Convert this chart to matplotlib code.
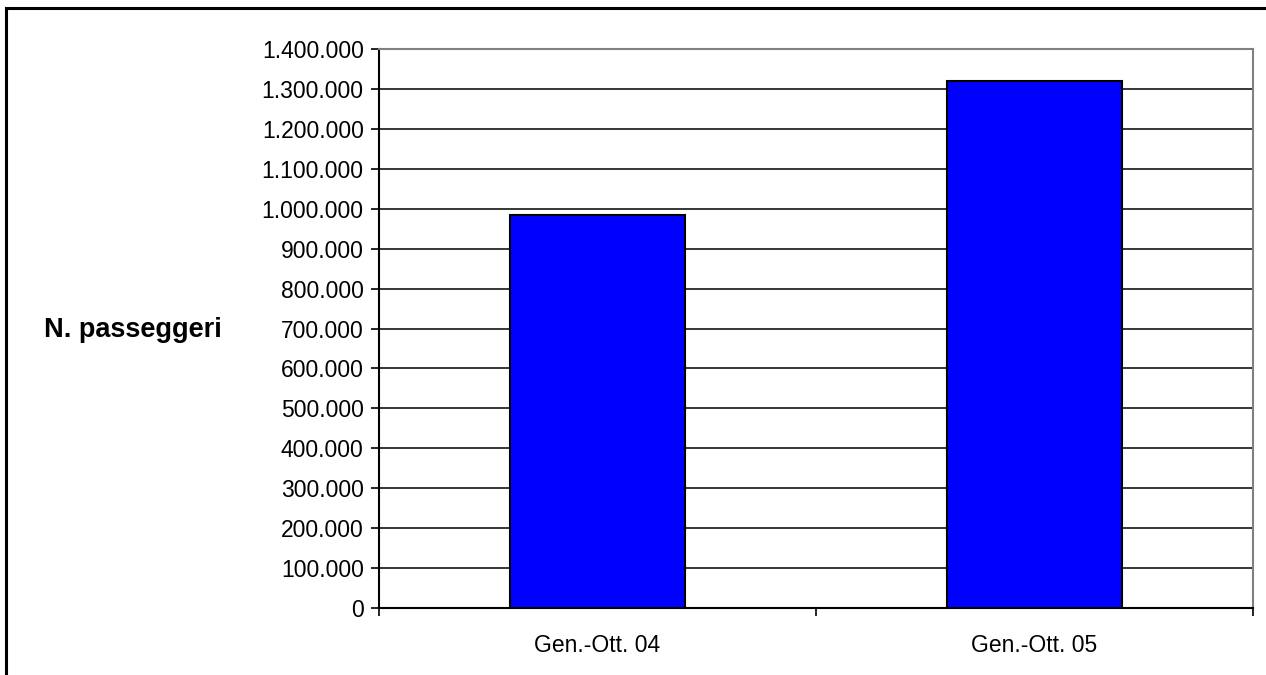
import matplotlib
matplotlib.use("Agg")
import matplotlib.pyplot as plt
from matplotlib.patches import Rectangle
from matplotlib.ticker import FuncFormatter, FixedLocator

categories = ["Gen.-Ott. 04", "Gen.-Ott. 05"]
values = [985000, 1320000]
y_ticks = list(range(0, 1400001, 100000))

plt.rcParams['font.family'] = ['Liberation Sans', 'DejaVu Sans']

W, H = 1266, 675
fig = plt.figure(figsize=(W / 100, H / 100), dpi=100)
fig.patch.set_facecolor("white")

ax = fig.add_axes([379 / W, 1 - 608 / H, (1253 - 379) / W, (608 - 49) / H])

x = list(range(len(categories)))
ax.bar(x, values, width=0.4, color="#0000FF", edgecolor="black", linewidth=1.5, zorder=3)

ax.set_xlim(-0.5, len(categories) - 0.5)
ax.set_ylim(0, 1400000)
ax.yaxis.set_major_locator(FixedLocator(y_ticks))
ax.yaxis.set_major_formatter(FuncFormatter(lambda v, p: f"{int(v):,}".replace(",", ".")))
ax.grid(axis="y", color="black", linewidth=1.1, zorder=1)

ax.xaxis.set_major_locator(FixedLocator([i - 0.5 for i in range(len(categories) + 1)]))
ax.xaxis.set_major_formatter(FuncFormatter(lambda v, p: ""))
ax.xaxis.set_minor_locator(FixedLocator(x))
ax.set_xticklabels(categories, minor=True)
ax.tick_params(axis="x", which="minor", length=0, pad=19, labelsize=16.5)
ax.tick_params(axis="x", which="major", length=6, width=1.2, direction="out")
ax.tick_params(axis="y", length=6, width=1.2, direction="out", labelsize=16.5, pad=5)

for s in ["left", "bottom"]:
    ax.spines[s].set_color("black")
    ax.spines[s].set_linewidth(1.5)
for s in ["right", "top"]:
    ax.spines[s].set_color("#808080")
    ax.spines[s].set_linewidth(1.5)

fig.text(133 / W, 1 - 330 / H, "N. passeggeri", ha="center", va="center",
         fontsize=19.5, fontweight="bold")

fig.patches.append(Rectangle((6 / W, -0.1), 1.2, 1 - 8 / H + 0.1, transform=fig.transFigure,
                             fill=False, edgecolor="black", linewidth=2.2))

fig.savefig("out.png", dpi=100)
